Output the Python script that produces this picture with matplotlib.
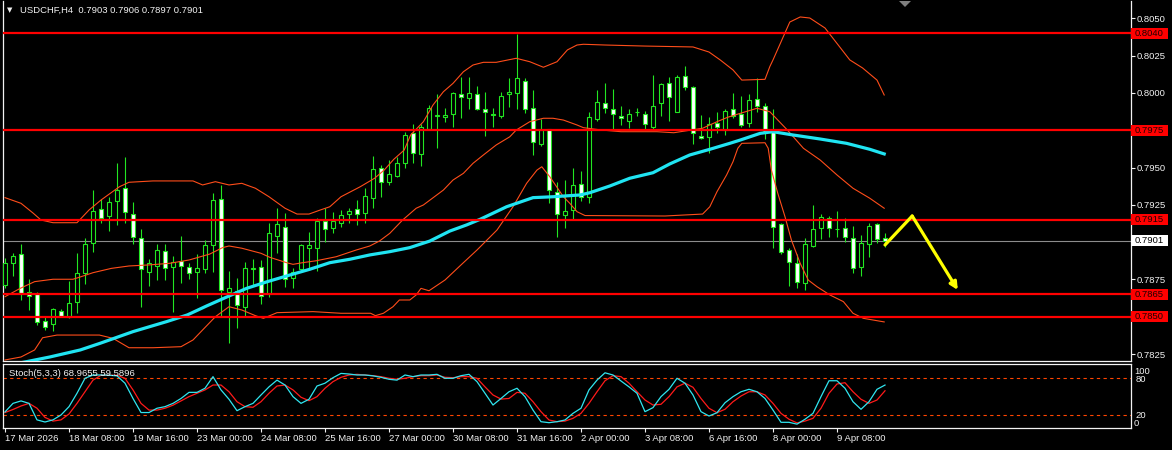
import matplotlib
matplotlib.use('Agg')
import matplotlib.pyplot as plt
import matplotlib.transforms as mtransforms
from matplotlib.patches import Rectangle, Polygon

plt.rcParams['font.family'] = ['Liberation Sans', 'DejaVu Sans']

# ---------------- data ----------------
symbol_title = "USDCHF,H4  0.7903 0.7906 0.7897 0.7901"
stoch_title = "Stoch(5,3,3) 68.9655 59.5896"

open_ = [0.78713, 0.78862, 0.78918, 0.78668, 0.78652, 0.78473, 0.78449, 0.78536, 0.78500, 0.78597,
         0.78791, 0.78996, 0.79220, 0.79177, 0.79278, 0.79361, 0.79186, 0.79026, 0.78802, 0.78842,
         0.78938, 0.78835, 0.78875, 0.78835, 0.78802, 0.78818, 0.78981, 0.79287, 0.78668, 0.78674,
         0.78567, 0.78818, 0.78835, 0.78652, 0.79043, 0.79103, 0.78757, 0.78818, 0.78963, 0.78963,
         0.79141, 0.79097, 0.79126, 0.79186, 0.79220, 0.79197, 0.79298, 0.79495, 0.79405, 0.79443,
         0.79532, 0.79729, 0.79589, 0.79756, 0.79847, 0.79836, 0.79857, 0.79991, 0.79968, 0.79991,
         0.79890, 0.79857, 0.79847, 0.79991, 0.79997, 0.80082, 0.79897, 0.79656, 0.79756, 0.79338,
         0.79180, 0.79215, 0.79387, 0.79304, 0.79825, 0.79930, 0.79890, 0.79847, 0.79814, 0.79870,
         0.79857, 0.79774, 0.79930, 0.80064, 0.79874, 0.80115, 0.80042, 0.79713, 0.79706, 0.79796,
         0.79751, 0.79890, 0.79859, 0.79796, 0.79957, 0.79912, 0.79740, 0.79119, 0.78947, 0.78862,
         0.78728, 0.78976, 0.79097, 0.79160, 0.79086, 0.79097, 0.79026, 0.78835, 0.78985, 0.79119,
         0.7903]
high = [0.78892, 0.78925, 0.78985, 0.78751, 0.78668, 0.78500, 0.78560, 0.78550, 0.78739, 0.78929,
        0.79026, 0.79349, 0.79287, 0.79304, 0.79528, 0.79572, 0.79271, 0.79088, 0.78887, 0.78985,
        0.78985, 0.78907, 0.79041, 0.78858, 0.78918, 0.79014, 0.79327, 0.79383, 0.78806, 0.78761,
        0.78869, 0.78885, 0.78880, 0.79130, 0.79231, 0.79193, 0.78824, 0.78987, 0.79068, 0.79160,
        0.79229, 0.79202, 0.79215, 0.79229, 0.79282, 0.79363, 0.79577, 0.79517, 0.79550, 0.79572,
        0.79740, 0.79790, 0.79790, 0.79919, 0.79991, 0.79897, 0.80008, 0.80109, 0.80105, 0.80046,
        0.80008, 0.79897, 0.80008, 0.80098, 0.80395, 0.80098, 0.80019, 0.79823, 0.79760, 0.79401,
        0.79416, 0.79495, 0.79477, 0.79874, 0.80019, 0.80064, 0.80026, 0.79912, 0.79890, 0.79897,
        0.79879, 0.80120, 0.80064, 0.80105, 0.80120, 0.80180, 0.80045, 0.79852, 0.79836, 0.79870,
        0.79890, 0.80001, 0.79979, 0.79993, 0.80098, 0.79930, 0.79890, 0.79125, 0.78963, 0.78918,
        0.79026, 0.79249, 0.79188, 0.79177, 0.79209, 0.79160, 0.79108, 0.79048, 0.79126, 0.79126,
        0.7906]
low = [0.78692, 0.78773, 0.78612, 0.78545, 0.78445, 0.78411, 0.78404, 0.78500, 0.78489, 0.78527,
       0.78717, 0.78936, 0.79126, 0.79074, 0.79115, 0.79126, 0.78985, 0.78567, 0.78706, 0.78746,
       0.78746, 0.78534, 0.78728, 0.78753, 0.78627, 0.78795, 0.78802, 0.78507, 0.78326, 0.78426,
       0.78500, 0.78713, 0.78585, 0.78634, 0.78925, 0.78697, 0.78690, 0.78813, 0.78813, 0.78806,
       0.79003, 0.79063, 0.79103, 0.79126, 0.79115, 0.79126, 0.79227, 0.79300, 0.79383, 0.79434,
       0.79495, 0.79532, 0.79510, 0.79751, 0.79633, 0.79807, 0.79774, 0.79830, 0.79892, 0.79885,
       0.79711, 0.79774, 0.79830, 0.79908, 0.79892, 0.79867, 0.79584, 0.79644, 0.79264, 0.79036,
       0.79097, 0.79148, 0.79278, 0.79264, 0.79814, 0.79867, 0.79751, 0.79785, 0.79767, 0.79845,
       0.79751, 0.79751, 0.79845, 0.79814, 0.79870, 0.80019, 0.79656, 0.79689, 0.79595, 0.79733,
       0.79718, 0.79832, 0.79774, 0.79774, 0.79874, 0.79689, 0.78959, 0.78918, 0.78708, 0.78694,
       0.78679, 0.78965, 0.79019, 0.79036, 0.79036, 0.79003, 0.78791, 0.78775, 0.78902, 0.78996,
       0.7897]
close = [0.78858, 0.78907, 0.78657, 0.78639, 0.78467, 0.78433, 0.78550, 0.78507, 0.78590, 0.78795,
         0.78985, 0.79209, 0.79164, 0.79269, 0.79349, 0.79200, 0.79036, 0.78818, 0.78858, 0.78947,
         0.78824, 0.78865, 0.78842, 0.78791, 0.78824, 0.78981, 0.79282, 0.78679, 0.78690, 0.78579,
         0.78824, 0.78824, 0.78641, 0.79059, 0.79119, 0.78753, 0.78802, 0.78981, 0.78979, 0.79141,
         0.79086, 0.79141, 0.79180, 0.79209, 0.79186, 0.79309, 0.79488, 0.79401, 0.79457, 0.79528,
         0.79718, 0.79595, 0.79769, 0.79897, 0.79850, 0.79852, 0.79997, 0.79975, 0.79997, 0.79892,
         0.79870, 0.79855, 0.79979, 0.80006, 0.80098, 0.79890, 0.79669, 0.79751, 0.79349, 0.79186,
         0.79209, 0.79383, 0.79300, 0.79836, 0.79937, 0.79897, 0.79857, 0.79830, 0.79857, 0.79872,
         0.79790, 0.79914, 0.80058, 0.79971, 0.80105, 0.80038, 0.79733, 0.79696, 0.79790, 0.79769,
         0.79879, 0.79847, 0.79785, 0.79952, 0.79914, 0.79740, 0.79103, 0.78936, 0.78865, 0.78735,
         0.78985, 0.79086, 0.79166, 0.79097, 0.79088, 0.79036, 0.78824, 0.78996, 0.79108, 0.79021,
         0.7901]

bb_upper_x = [0, 2, 3.5, 4.5, 6, 9, 10.5, 12, 14.3, 15.5, 18.5, 23.5, 24.7, 26.3, 28, 29.6, 31.3, 33,
              35, 36.5, 38, 39.4, 40.6, 42, 44.4, 46.2, 47.4, 48.6, 49.9, 50.7, 52.3, 53.5, 54.8, 56,
              57.3, 58.5, 59.8, 61.4, 63.9, 65.6, 67.3, 69, 70.3, 71.5, 72.3, 75, 80, 86, 88, 89.4,
              91, 92.1, 95, 95.6, 96, 98.1, 99.4, 100.6, 102.5, 105.6, 107.2, 109, 109.9]
bb_upper = [0.79298, 0.79260, 0.79195, 0.79148, 0.79130, 0.79130, 0.79215, 0.79282, 0.79371, 0.79401,
            0.79410, 0.79410, 0.79383, 0.79405, 0.79383, 0.79394, 0.79361, 0.79304, 0.79227, 0.79188,
            0.79188, 0.79215, 0.79237, 0.79304, 0.79371, 0.79428, 0.79483, 0.79555, 0.79617, 0.79718,
            0.79807, 0.79919, 0.80008, 0.80064, 0.80142, 0.80187, 0.80205, 0.80205, 0.80232, 0.80209,
            0.80172, 0.80209, 0.80288, 0.80321, 0.80326, 0.80321, 0.80314, 0.80308, 0.80274, 0.80221,
            0.80154, 0.80086, 0.80091, 0.80176, 0.80221, 0.80475, 0.80509, 0.80502, 0.80435, 0.80221,
            0.80167, 0.80086, 0.79986]
bb_middle_x = [0, 1.9, 3.7, 6, 8.5, 9.5, 11, 13.3, 15.5, 18, 20.6, 23, 25.6, 27.2, 28, 29.6, 32, 33.1,
               35.2, 36, 37.2, 38.9, 41.4, 43.9, 45.6, 46.8, 48.1, 49.7, 51.4, 52.3, 54.8, 56, 57.3,
               58.5, 59.8, 61.4, 63.1, 63.9, 65.6, 67.3, 68.5, 69.8, 71.5, 72.3, 74.6, 77, 81.5, 83.6,
               87.2, 89, 90.3, 91.9, 94, 95.6, 97.8, 99.8, 101.9, 104, 106, 108.1, 109.9]
bb_middle = [0.78634, 0.78690, 0.78735, 0.78751, 0.78751, 0.78768, 0.78795, 0.78824, 0.78840, 0.78847,
             0.78858, 0.78880, 0.78920, 0.78963, 0.78974, 0.78959, 0.78925, 0.78898, 0.78862, 0.78851,
             0.78862, 0.78875, 0.78902, 0.78947, 0.78974, 0.79007, 0.79059, 0.79148, 0.79227, 0.79249,
             0.79349, 0.79416, 0.79461, 0.79528, 0.79584, 0.79651, 0.79706, 0.79751, 0.79807, 0.79830,
             0.79830, 0.79818, 0.79785, 0.79767, 0.79751, 0.79740, 0.79740, 0.79733, 0.79763, 0.79807,
             0.79836, 0.79863, 0.79897, 0.79874, 0.79751, 0.79629, 0.79550, 0.79450, 0.79361, 0.79294,
             0.79227]
bb_lower_x = [0, 2, 3.7, 4.7, 6.5, 11.8, 13.5, 15.5, 18.5, 22, 23.5, 24.7, 26.3, 28, 29.6, 31.3, 32.3,
              34, 38.5, 42, 45.7, 46.3, 47.3, 48.5, 49.3, 50.6, 51.4, 52, 53, 55, 57, 59, 61.5, 63.5,
              65.2, 66.5, 67.1, 68.1, 69.8, 70.6, 71.5, 72.5, 82.5, 87.2, 88.1, 89, 90.2, 91, 91.6,
              92.1, 95, 95.4, 95.8, 96.6, 97.5, 98.3, 99.4, 100.4, 101.5, 103.1, 104.8, 106, 107.3, 109.9]
bb_lower = [0.78210, 0.78230, 0.78277, 0.78359, 0.78377, 0.78377, 0.78355, 0.78292, 0.78292, 0.78299,
            0.78344, 0.78411, 0.78500, 0.78567, 0.78545, 0.78507, 0.78489, 0.78527, 0.78534, 0.78523,
            0.78523, 0.78507, 0.78523, 0.78567, 0.78612, 0.78612, 0.78646, 0.78690, 0.78674, 0.78746,
            0.78847, 0.78947, 0.79081, 0.79237, 0.79394, 0.79483, 0.79505, 0.79438, 0.79304, 0.79260,
            0.79204, 0.79178, 0.79175, 0.79188, 0.79237, 0.79338, 0.79450, 0.79539, 0.79629, 0.79662,
            0.79666, 0.79629, 0.79483, 0.79327, 0.79170, 0.79014, 0.78858, 0.78746, 0.78701, 0.78646,
            0.78601, 0.78523, 0.78489, 0.78465]
ma_x = [0, 3.1, 5.6, 9.4, 11.9, 16, 20.2, 22.8, 25.2, 27.8, 30.2, 32.8, 35.2, 38.1, 40.6, 43.1, 45.6,
        48.1, 50.6, 53.1, 55.6, 57.7, 59.4, 62.7, 66, 68.5, 71.9, 73.1, 75.6, 78.1, 81, 83.1, 85.6,
        88.1, 90.6, 91.9, 94.4, 96, 98.5, 101.9, 105.2, 108.1, 109.9]
ma = [0.78170, 0.78203, 0.78230, 0.78277, 0.78322, 0.78400, 0.78467, 0.78512, 0.78572, 0.78634,
      0.78690, 0.78735, 0.78773, 0.78818, 0.78862, 0.78885, 0.78914, 0.78936, 0.78963, 0.79007,
      0.79074, 0.79115, 0.79153, 0.79237, 0.79298, 0.79304, 0.79316, 0.79331, 0.79376, 0.79428,
      0.79465, 0.79524, 0.79584, 0.79622, 0.79662, 0.79684, 0.79729, 0.79740, 0.79718, 0.79691,
      0.79662, 0.79622, 0.79591]

stoch_k = [25, 39, 43, 39, 12, 8.5, 12, 20, 33.6, 55.5,
           80, 85.4, 85.4, 85, 84, 72, 47, 24, 24, 31,
           33.6, 39, 47, 57, 57, 63.7, 82.7, 61, 45.7, 27,
           33.6, 39, 52.7, 66, 77, 69, 50, 39, 45.7, 67.4,
           72, 81, 88, 87, 85.4, 85.4, 84, 81.6, 78.4, 77,
           85.4, 82.7, 85.4, 85.4, 86.5, 80, 80, 84.3, 86.5, 74.5,
           55.5, 36.3, 47, 58, 63.7, 50, 28, 9, 7.4, 9,
           11.8, 22.7, 31, 61, 77, 89, 85.4, 75.6, 66, 55.5,
           25.4, 32, 50, 62, 80, 72, 52.7, 25.4, 18.3, 23.7,
           40, 50, 58, 62, 58, 47, 28, 8, 8, 5,
           13, 22.7, 50, 76, 76, 63.7, 41.7, 29.3, 41.7, 62,
           68.97]
stoch_d = [24, 29, 34.7, 39, 31, 16, 10, 12, 21.6, 39,
           58, 77, 85, 85, 85, 80, 61, 39, 28, 28,
           31, 36, 43, 50, 55.5, 61, 69, 69, 58, 41.7,
           33.6, 32.6, 41.7, 55.5, 67.4, 69, 61, 49, 43.4, 50,
           63.7, 74.5, 81.6, 85.4, 86.5, 85.4, 84.3, 82.7, 80, 78.4,
           80, 82.7, 84.3, 84.3, 85.4, 81.6, 81, 82.7, 82.7, 80,
           66, 52.7, 46, 47, 57, 55.5, 41.7, 25.4, 11.8, 9,
           10, 14.5, 22.7, 39, 58, 76, 84.3, 82.7, 72, 58,
           44.5, 36.3, 37.5, 50, 66, 72, 65.3, 47, 31, 23.7,
           29.3, 41.7, 51, 58, 58, 52.7, 39, 22.7, 13, 7,
           10, 14.5, 31, 55.5, 70.7, 72.8, 58, 45.7, 39, 44.5,
           59.59]

level_prices = [0.8040, 0.7975, 0.7915, 0.7865, 0.7850]
current_price = 0.7901
price_ticks = [0.8050, 0.8025, 0.8000, 0.7975, 0.7950, 0.7925, 0.7900, 0.7875, 0.7850, 0.7825]
hidden_price_labels = [0.7975, 0.7900, 0.7850]
date_tick_bars = [0, 8, 16, 24, 32, 40, 48, 56, 64, 72, 80, 88, 96, 104]
date_labels = ['17 Mar 2026', '18 Mar 08:00', '19 Mar 16:00', '23 Mar 00:00', '24 Mar 08:00',
               '25 Mar 16:00', '27 Mar 00:00', '30 Mar 08:00', '31 Mar 16:00', '2 Apr 00:00',
               '3 Apr 08:00', '6 Apr 16:00', '8 Apr 00:00', '9 Apr 08:00']
stoch_levels = [80, 20]
arrow_x = [110, 113.4, 119.1]
arrow_y = [0.78981, 0.79175, 0.78679]

# ---------------- figure ----------------
W, H = 1172, 450
fig = plt.figure(figsize=(W / 100, H / 100), dpi=100)
fig.patch.set_facecolor('black')


def rect(l, t, r, b):
    return [l / W, 1 - b / H, (r - l) / W, (b - t) / H]


ax = fig.add_axes(rect(3, 1, 1131, 361))
ax2 = fig.add_axes(rect(3, 364, 1131, 428))
XMIN, XMAX = -0.25, 140.75
FS = 6.8
WHITE = '#f2f2f2'
GREEN = '#22e622'
BB = '#ff4d1a'
CYAN = '#20e4f2'

for a in (ax, ax2):
    a.set_facecolor('black')
    a.set_xlim(XMIN, XMAX)
    for s in a.spines.values():
        s.set_color(WHITE)
        s.set_linewidth(0.9)
ax.spines['top'].set_visible(False)

ax.set_ylim(0.782031, 0.806160)
ax2.set_ylim(-1.31, 103.4)

# candles
n = len(close)
xs = list(range(n))
ax.vlines(xs, low, high, color=GREEN, lw=0.8, zorder=3)
faces = ['white' if c < o else 'black' for o, c in zip(open_, close)]
ax.bar(xs, [c - o for o, c in zip(open_, close)], bottom=open_, width=0.62,
       color=faces, edgecolor=GREEN, linewidth=0.8, zorder=4)

# current price line and levels
ax.axhline(current_price, color='#8c8c8c', lw=0.8, zorder=1)
for p in level_prices:
    ax.axhline(p, color='#ff0000', lw=1.6, zorder=6)

# indicators
ax.plot(bb_upper_x, bb_upper, color=BB, lw=0.8, zorder=5)
ax.plot(bb_middle_x, bb_middle, color=BB, lw=0.8, zorder=5)
ax.plot(bb_lower_x, bb_lower, color=BB, lw=0.8, zorder=5)
ax.plot(ma_x, ma, color=CYAN, lw=2.3, zorder=5)

# yellow arrow
ax.plot(arrow_x[:2], arrow_y[:2], color='#ffff00', lw=2.3, zorder=7, solid_capstyle='round')
ax.annotate('', xy=(arrow_x[2], arrow_y[2]), xytext=(arrow_x[1], arrow_y[1]),
            arrowprops=dict(arrowstyle='-|>', color='#ffff00', lw=2.3,
                            mutation_scale=11, shrinkA=0, shrinkB=0), zorder=7)

# right price axis
ax.set_xticks([])
ax.yaxis.tick_right()
ax.set_yticks(price_ticks)
ax.set_yticklabels(['' if p in hidden_price_labels else '%.4f' % p for p in price_ticks])
ax.tick_params(axis='y', colors=WHITE, labelsize=FS, length=3, width=0.8, pad=1)

trans = mtransforms.blended_transform_factory(fig.transFigure, ax.transData)
hh = 5.5 / 14920
for p in level_prices:
    ax.add_patch(Rectangle((1131 / W, p - hh), 37 / W, 2 * hh, transform=trans,
                           facecolor='#ff0000', edgecolor='none', clip_on=False, zorder=10))
    ax.text(1135 / W, p, '%.4f' % p, transform=trans, color='#200000', fontsize=FS,
            va='center', ha='left', clip_on=False, zorder=11)
ax.add_patch(Rectangle((1131 / W, current_price - hh), 37 / W, 2 * hh, transform=trans,
                       facecolor='white', edgecolor='none', clip_on=False, zorder=10))
ax.text(1135 / W, current_price, '%.4f' % current_price, transform=trans, color='black',
        fontsize=FS, va='center', ha='left', clip_on=False, zorder=11)

# stochastic panel
sx = list(range(len(stoch_k)))
for lv in stoch_levels:
    ax2.axhline(lv, color='#ff4500', lw=0.8, ls=(0, (3, 3)), zorder=1)
ax2.plot(sx, stoch_d, color='#ff1a1a', lw=0.9, zorder=2)
ax2.plot(sx, stoch_k, color='#30e6f0', lw=0.9, zorder=3)
ax2.yaxis.tick_right()
ax2.set_yticks(stoch_levels)
ax2.set_yticklabels([str(v) for v in stoch_levels])
ax2.tick_params(axis='y', colors=WHITE, labelsize=FS, length=0, pad=3)
t2 = mtransforms.blended_transform_factory(ax2.transAxes, ax2.transData)
ax2.text(1.0, 100, '100', transform=mtransforms.offset_copy(t2, fig=fig, x=3, y=-5.5, units='dots'),
         color=WHITE, fontsize=FS, va='center', ha='left', clip_on=False)
ax2.text(1.0, 0, '0', transform=mtransforms.offset_copy(t2, fig=fig, x=3, y=4, units='dots'),
         color=WHITE, fontsize=FS, va='center', ha='left', clip_on=False)
ax2.set_xticks(date_tick_bars)
ax2.set_xticklabels(date_labels, ha='left')
ax2.tick_params(axis='x', colors=WHITE, labelsize=FS, length=3, width=0.8, pad=1.5)

# titles
fig.text(7 / W, 1 - 10 / H, '\u25bc', fontsize=5, color=WHITE, va='center', ha='left',
         family='DejaVu Sans')
fig.text(20 / W, 1 - 10 / H, symbol_title, fontsize=FS, color=WHITE, va='center', ha='left')
fig.text(9 / W, 1 - 373.5 / H, stoch_title, fontsize=FS, color=WHITE, va='center', ha='left')

# chart shift marker
fig.add_artist(Polygon([(899 / W, 1 - 1 / H), (911 / W, 1 - 1 / H), (905 / W, 1 - 7 / H)],
                       closed=True, transform=fig.transFigure, facecolor='#7f7f7f',
                       edgecolor='none'))

fig.savefig('out.png', dpi=100, facecolor='black')
